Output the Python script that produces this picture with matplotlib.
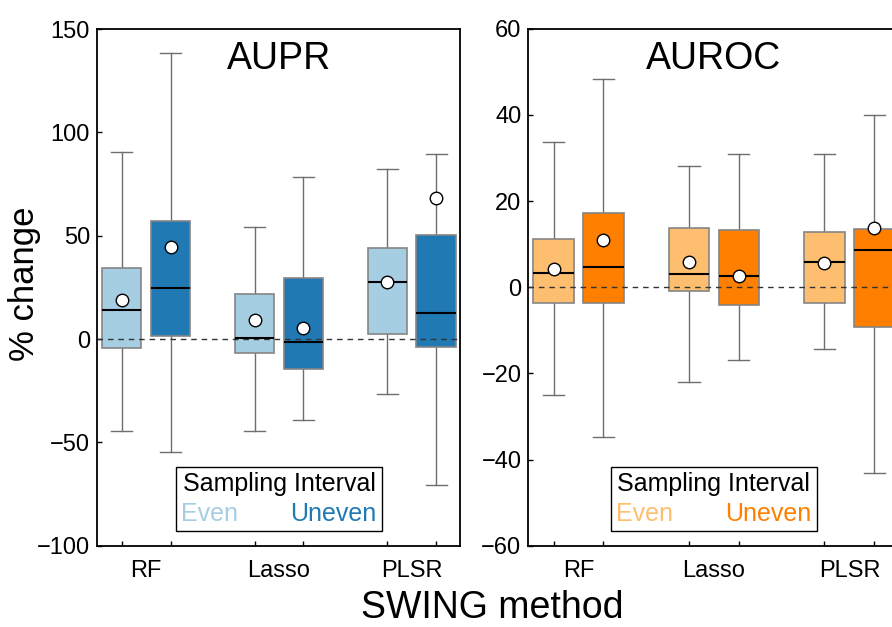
import matplotlib
matplotlib.use("Agg")
import matplotlib.pyplot as plt
import matplotlib.transforms as mtransforms
from matplotlib.patches import Patch

plt.rcParams["font.family"] = ["Liberation Sans", "DejaVu Sans"]

# SWING methods and sampling schemes
methods = ["RF", "Lasso", "PLSR"]
schemes = ["Even", "Uneven"]

# AUPR % change: per method, [Even, Uneven]
aupr_whislo = [[-44.3, -54.8], [-44.3, -39.0], [-26.7, -70.4]]
aupr_q1 = [[-4.4, 1.6], [-6.7, -14.7], [2.4, -3.9]]
aupr_med = [[13.9, 24.7], [0.3, -1.3], [27.4, 12.4]]
aupr_q3 = [[34.4, 57.0], [21.6, 29.5], [44.2, 50.2]]
aupr_whishi = [[90.7, 138.2], [54.4, 78.4], [82.2, 89.4]]
aupr_mean = [[18.7, 44.4], [9.0, 5.3], [27.6, 68.3]]

# AUROC % change: per method, [Even, Uneven]
auroc_whislo = [[-25.1, -34.8], [-22.0, -16.8], [-14.4, -43.1]]
auroc_q1 = [[-3.7, -3.6], [-0.9, -4.2], [-3.7, -9.2]]
auroc_med = [[3.3, 4.7], [3.1, 2.5], [5.9, 8.6]]
auroc_q3 = [[11.2, 17.2], [13.8, 13.2], [12.7, 13.6]]
auroc_whishi = [[33.6, 48.4], [28.2, 30.9], [30.9, 39.9]]
auroc_mean = [[4.2, 11.0], [5.9, 2.7], [5.7, 13.8]]

aupr_ticks = [-100, -50, 0, 50, 100, 150]
auroc_ticks = [-60, -40, -20, 0, 20, 40, 60]

blues = ["#a6cee3", "#2179b4"]
oranges = ["#fdbf6f", "#ff7f00"]

OFFSET = 0.184
BOX_W = 0.298
CAP_W = 0.156


def draw_panel(ax, lo, q1, med, q3, hi, mean, colors, title, yticks):
    positions = []
    for g in range(len(methods)):
        for s in range(len(schemes)):
            pos = g + 1 + (s - 0.5) * 2 * OFFSET
            stats = [{
                "whislo": lo[g][s], "q1": q1[g][s], "med": med[g][s],
                "q3": q3[g][s], "whishi": hi[g][s], "mean": mean[g][s],
                "fliers": [],
            }]
            ax.bxp(
                stats, positions=[pos], widths=BOX_W, capwidths=CAP_W,
                patch_artist=True, showmeans=True, manage_ticks=False,
                boxprops=dict(facecolor=colors[s], edgecolor="#858585",
                              linewidth=1.2, zorder=2),
                whiskerprops=dict(color="#6e6e6e", linewidth=1.0, zorder=1.5),
                capprops=dict(color="#6e6e6e", linewidth=1.0, zorder=1.5),
                medianprops=dict(color="black", linewidth=1.5, zorder=3),
                meanprops=dict(marker="o", markerfacecolor="white",
                               markeredgecolor="black", markersize=9,
                               markeredgewidth=1.0, zorder=4),
            )
            positions.append(pos)

    ax.axhline(0, color="#333333", linewidth=1.0, dashes=(4, 3.5), zorder=2.5)

    ax.set_xlim(0.63, 3.363)
    ax.set_ylim(yticks[0], yticks[-1])
    ax.set_yticks(yticks)
    ax.set_xticks(positions)
    ax.set_xticklabels([""] * len(positions))
    ax.set_xticks(range(1, len(methods) + 1), minor=True)
    ax.set_xticklabels(methods, minor=True)
    ax.tick_params(axis="both", which="major", direction="in", length=3.5,
                   width=1.0, labelsize=17, pad=5)
    ax.tick_params(axis="x", which="minor", length=0, labelsize=17, pad=10)
    for sp in ax.spines.values():
        sp.set_linewidth(1.3)

    trans = mtransforms.blended_transform_factory(ax.transData, ax.transAxes)
    ax.text(2, 0.9226, title, transform=trans, ha="center", va="baseline",
            fontsize=27)

    handles = [Patch(visible=False) for _ in schemes]
    leg = ax.legend(
        handles, schemes, ncol=2, title="Sampling Interval",
        title_fontsize=18, fontsize=18, labelcolor=colors,
        handlelength=0, handletextpad=0, columnspacing=2.1,
        borderpad=0.22, borderaxespad=0, fancybox=False,
        edgecolor="black", framealpha=1, loc="lower center",
        bbox_to_anchor=(2, 0.028), bbox_transform=trans,
    )
    leg.get_frame().set_linewidth(1.0)
    leg._legend_box.sep = 4
    return ax


fig = plt.figure(figsize=(8.92, 6.27), dpi=100)
ax1 = fig.add_axes([97 / 892, 81.3 / 627, 363 / 892, 516.7 / 627])
ax2 = fig.add_axes([528.3 / 892, 81.3 / 627, 370.3 / 892, 517 / 627])

draw_panel(ax1, aupr_whislo, aupr_q1, aupr_med, aupr_q3, aupr_whishi,
           aupr_mean, blues, "AUPR", aupr_ticks)
draw_panel(ax2, auroc_whislo, auroc_q1, auroc_med, auroc_q3, auroc_whishi,
           auroc_mean, oranges, "AUROC", auroc_ticks)

fig.text(0.028, (627 - 284) / 627, "% change", rotation=90,
         ha="center", va="center", fontsize=25)
fig.text(0.552, 9 / 627, "SWING method", ha="center", va="baseline",
         fontsize=27)

fig.savefig("out.png", dpi=100)
